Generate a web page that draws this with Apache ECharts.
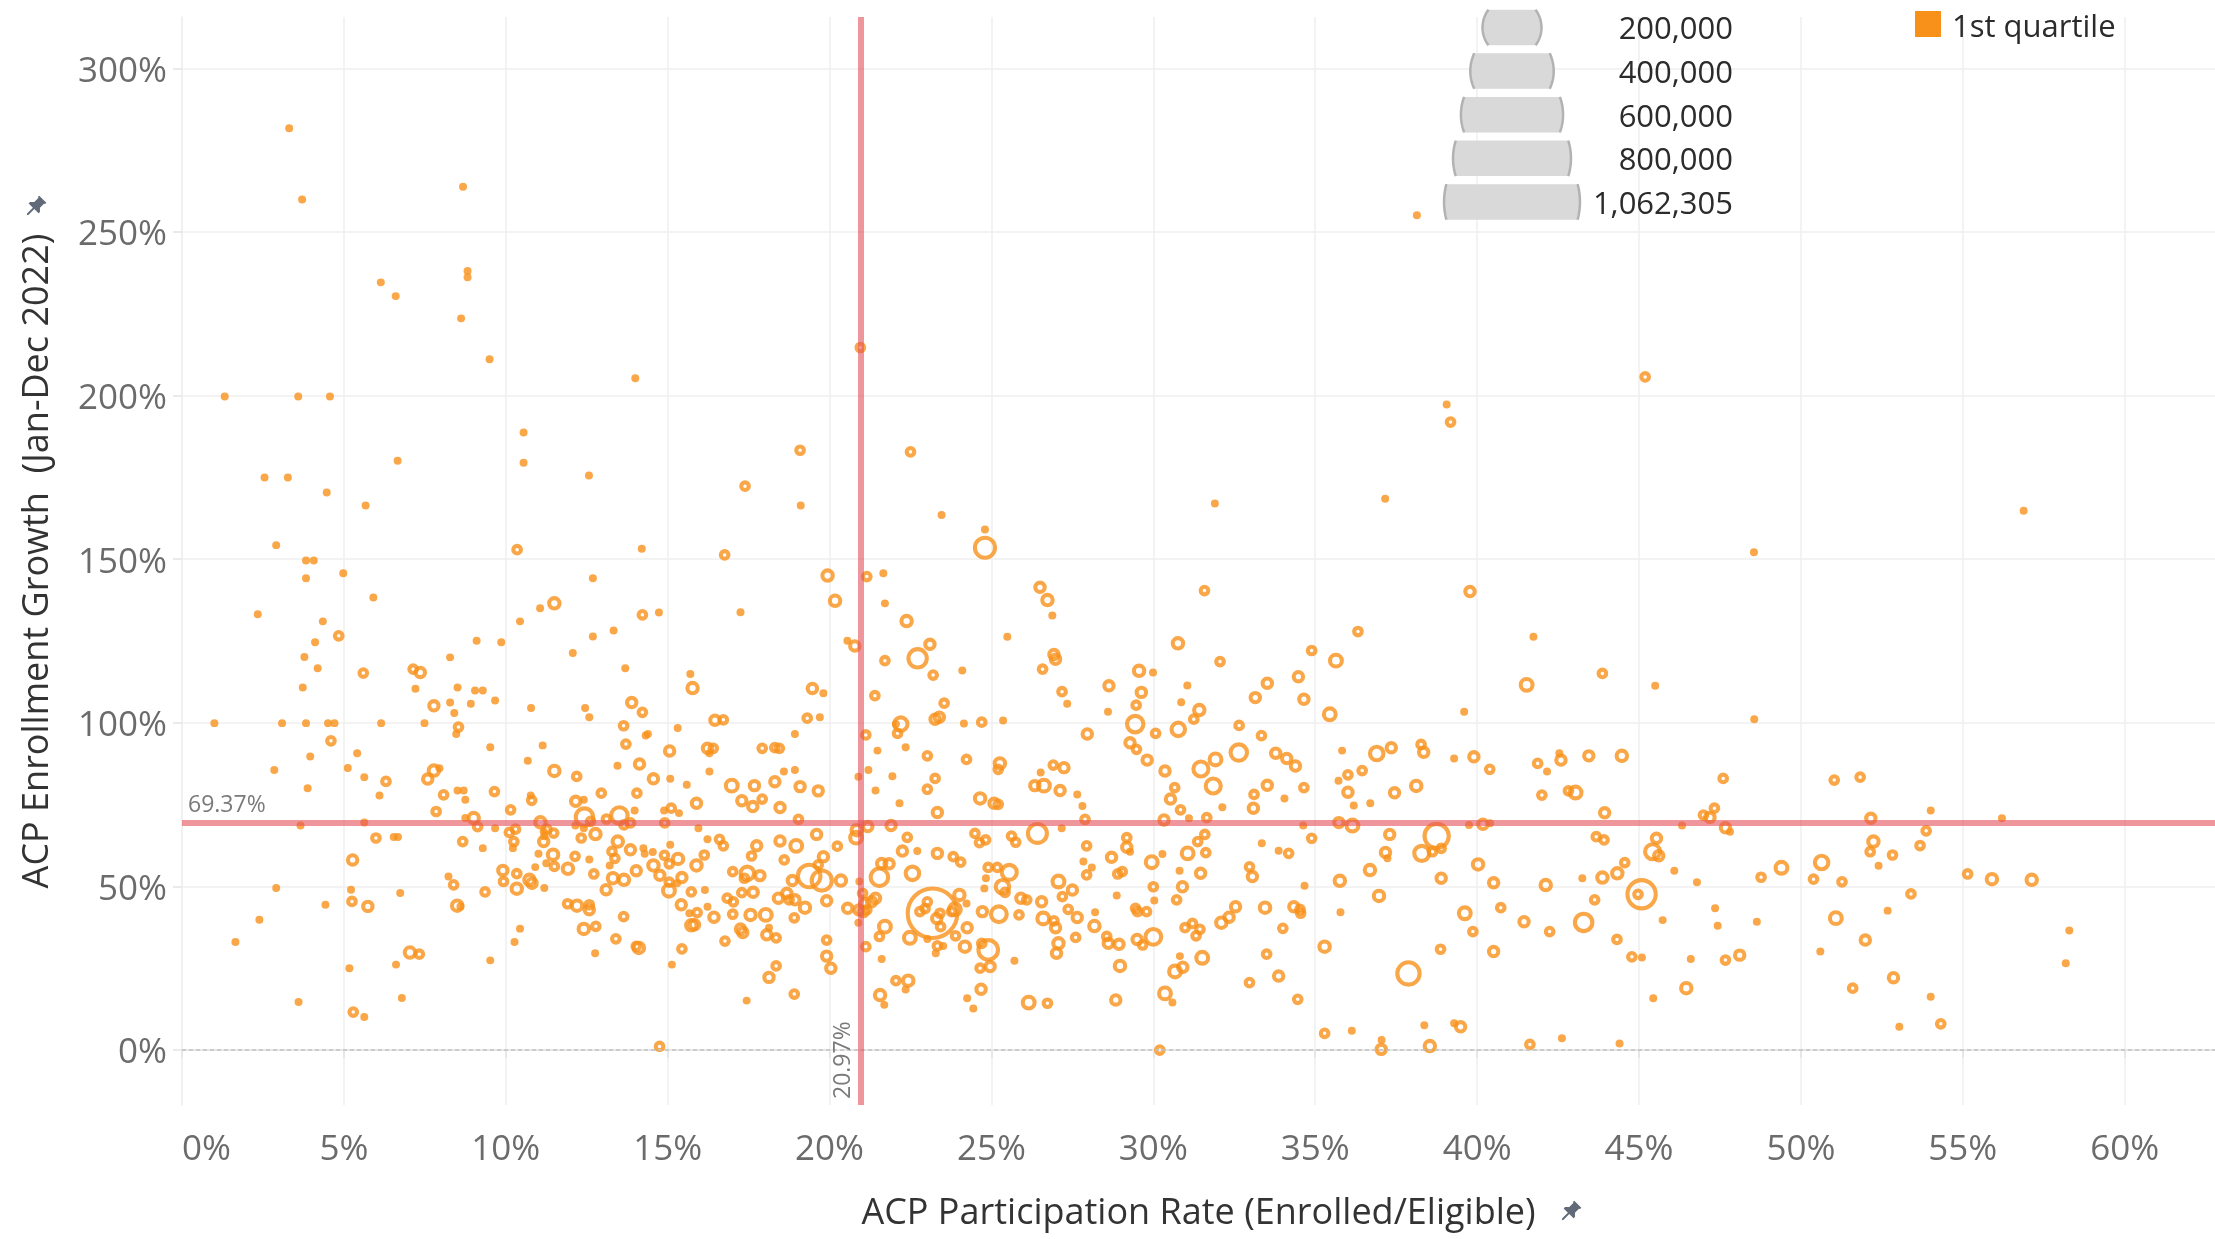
<!DOCTYPE html>
<html><head><meta charset="utf-8">
<script src="https://cdn.jsdelivr.net/npm/echarts@6/dist/echarts.min.js"></script>
<style>html,body{margin:0;padding:0;background:#fff;}#c{width:2215px;height:1239px;}</style>
</head><body><div id="c"></div>
<script>
// ---- DATA ----
// each point: [ACP participation rate %, ACP enrollment growth %, eligible households (thousands, read from mark size)]
const acpPoints = [
[3.83,149.6,19],[4.07,149.6,19],[3.83,144.2,19],[4.98,145.7,19],[2.34,133.2,19],[5.91,138.3,19],[4.35,131.0,19],[4.84,126.6,40],
[4.11,124.6,19],[3.78,120.1,19],[4.19,116.7,19],[3.73,110.8,19],[1.0,99.9,19],[3.09,99.9,19],[3.83,99.9,19],[4.51,99.9,19],
[4.71,99.9,19],[6.15,99.9,19],[7.49,99.9,19],[4.60,94.5,40],[3.96,89.7,19],[2.85,85.6,19],[5.41,90.7,19],[5.12,86.2,19],
[5.63,83.4,19],[6.30,82.1,40],[3.88,80.0,19],[6.10,77.8,19],[5.60,115.2,40],[7.14,116.4,40],[7.36,115.4,55],[8.28,120.0,19],
[7.21,110.4,19],[8.51,110.8,19],[7.78,105.2,55],[8.28,106.2,19],[8.41,103.0,19],[8.92,105.8,19],[9.05,109.9,19],[9.29,109.9,19],
[9.10,125.1,19],[9.86,124.6,19],[9.67,106.8,19],[8.54,98.7,40],[8.47,96.6,19],[10.44,131.0,19],[11.06,135.0,19],[11.50,136.5,65],
[12.69,144.2,19],[12.69,126.4,19],[12.07,121.3,19],[13.33,128.2,19],[14.22,133.0,40],[14.73,133.7,19],[13.69,116.7,19],[15.70,114.9,19],
[15.77,110.6,65],[10.78,104.5,19],[13.89,106.2,55],[14.22,103.2,40],[12.45,104.5,19],[12.58,101.7,19],[13.64,99.1,40],[15.31,98.4,19],
[14.32,96.1,19],[14.39,96.6,19],[13.71,93.5,40],[15.06,91.4,55],[9.52,92.5,19],[11.14,93.1,19],[10.68,88.4,19],[11.50,85.3,65],
[12.19,83.6,40],[13.45,86.9,19],[14.13,87.4,55],[14.56,82.9,55],[15.08,82.9,19],[15.59,81.1,19],[7.59,82.8,55],[7.78,85.4,65],
[7.95,86.1,19],[8.08,78.0,40],[8.51,79.3,19],[8.70,79.3,19],[8.75,76.5,19],[7.85,72.9,40],[9.65,79.0,40],[10.15,73.4,40],
[10.77,77.8,19],[10.80,76.3,40],[12.16,76.0,55],[12.41,76.5,19],[12.95,78.5,40],[14.05,78.5,40],[13.98,73.2,19],[14.89,73.2,19],
[15.11,73.9,40],[15.35,72.4,19],[15.89,75.4,55],[5.63,69.5,19],[3.66,68.6,19],[9.01,70.9,65],[8.75,70.9,19],[9.13,68.3,40],
[9.67,67.8,19],[11.07,69.6,65],[12.43,71.2,155],[13.51,71.7,140],[13.11,70.6,40],[12.62,69.9,40],[12.15,68.6,19],[12.41,67.8,19],
[13.65,68.8,40],[13.85,69.4,40],[14.91,69.4,40],[15.95,67.8,19],[5.99,64.8,40],[6.54,65.1,19],[6.67,65.1,19],[8.67,63.7,40],
[9.29,61.7,19],[10.11,66.5,40],[10.30,67.5,40],[10.25,63.7,40],[10.22,61.7,19],[11.17,66.8,19],[11.19,65.3,19],[11.27,67.5,40],
[11.48,66.3,40],[11.17,63.7,55],[12.33,64.8,40],[12.77,66.0,65],[13.46,63.7,65],[13.85,61.2,55],[13.28,60.7,40],[13.37,58.6,40],
[14.25,61.7,19],[14.29,60.0,19],[14.54,60.5,19],[15.08,62.7,19],[14.90,59.5,40],[15.32,58.4,65],[15.05,56.9,40],[14.56,56.4,65],
[14.76,53.4,55],[15.89,56.4,65],[11.01,60.0,19],[11.46,59.7,65],[11.25,57.1,19],[11.50,56.1,40],[10.91,55.9,19],[11.92,55.4,65],
[12.14,59.2,40],[12.58,58.2,19],[13.21,56.4,19],[12.72,53.8,40],[13.31,52.5,65],[13.65,52.0,65],[14.03,54.8,55],[15.44,52.7,55],
[15.05,51.3,40],[15.29,51.0,19],[9.91,54.9,55],[10.34,53.9,40],[9.93,51.5,40],[10.73,52.0,65],[10.81,51.0,55],[10.34,49.3,65],
[11.19,49.5,19],[13.10,49.0,55],[15.04,48.7,80],[15.73,48.3,40],[8.23,53.0,19],[8.39,50.5,40],[9.36,48.3,40],[5.27,58.1,55],
[2.91,49.5,19],[5.22,49.0,19],[5.25,45.4,40],[5.74,43.9,55],[6.74,48.0,19],[4.43,44.4,19],[8.50,44.1,65],[8.60,43.9,19],
[11.91,44.7,40],[12.20,44.1,65],[12.58,44.4,40],[12.58,42.9,55],[13.64,40.8,40],[15.42,44.4,55],[15.67,41.8,19],[15.91,42.0,40],
[15.73,38.1,65],[15.83,38.3,55],[2.39,39.8,19],[1.65,33.0,19],[10.44,37.1,19],[10.27,33.0,19],[12.41,37.0,65],[12.78,37.8,40],
[13.40,34.0,40],[14.03,31.7,40],[14.11,31.2,65],[15.44,30.9,40],[12.76,29.6,19],[15.13,26.1,19],[7.04,29.8,65],[7.33,29.3,40],
[5.17,25.0,19],[6.61,26.1,19],[9.52,27.4,19],[3.60,14.7,19],[6.79,15.9,19],[5.29,11.6,40],[5.63,10.1,19],[14.75,1.1,40],
[19.94,145.0,65],[21.15,144.7,40],[21.66,145.7,19],[21.71,136.5,19],[20.17,137.3,65],[17.25,133.8,19],[22.38,131.1,65],[26.50,141.4,55],
[26.73,137.5,65],[26.88,132.8,19],[31.58,140.4,40],[25.49,126.3,19],[20.55,125.1,19],[20.78,123.5,55],[22.72,119.7,170],[23.10,124.0,55],
[21.71,119.0,40],[23.20,114.6,40],[24.10,116.0,19],[26.93,120.9,55],[26.98,119.4,55],[26.58,116.4,40],[27.18,109.5,40],[27.34,105.8,19],
[30.76,124.3,65],[29.56,115.9,65],[29.99,115.4,19],[28.63,111.3,55],[29.63,109.3,55],[31.05,111.4,19],[29.47,105.4,40],[28.60,103.4,19],
[30.86,106.3,19],[31.42,103.9,65],[31.25,101.1,40],[29.44,99.6,140],[30.77,98.0,100],[30.07,96.8,40],[27.96,96.6,55],[29.28,93.9,55],
[29.48,91.9,40],[29.81,88.6,55],[31.47,85.9,120],[19.47,110.5,55],[19.81,109.0,19],[19.31,101.4,40],[19.70,101.7,19],[16.46,100.8,55],
[16.72,100.9,40],[18.93,96.6,19],[16.23,92.2,55],[16.41,92.2,40],[16.29,90.7,19],[17.92,92.2,40],[18.31,92.4,40],[18.45,92.2,40],
[16.29,85.1,19],[18.59,85.1,19],[18.93,85.6,19],[16.98,80.8,80],[17.68,80.8,55],[18.31,82.0,55],[19.09,80.5,55],[19.65,79.2,55],
[17.29,76.2,55],[17.63,74.4,55],[17.92,76.7,40],[18.47,74.1,55],[19.04,70.5,40],[16.23,64.4,19],[16.60,64.4,40],[16.72,62.4,40],
[16.13,59.6,40],[17.75,62.4,55],[17.59,59.3,40],[18.47,63.9,55],[18.97,62.4,80],[19.60,65.9,55],[18.60,58.1,40],[17.01,54.5,40],
[17.46,54.0,100],[17.37,52.5,40],[17.85,53.3,55],[17.64,48.2,55],[17.29,48.1,40],[16.15,48.9,19],[19.81,59.1,55],[19.65,56.6,40],
[19.37,53.2,245],[19.76,51.8,200],[18.85,51.8,55],[20.35,51.8,65],[20.24,62.3,40],[20.82,64.9,80],[20.84,67.2,65],[21.18,68.3,55],
[21.90,68.6,55],[20.89,83.5,19],[21.20,85.6,19],[21.12,96.3,40],[21.48,91.5,19],[21.94,83.7,19],[21.42,79.3,19],[22.16,75.4,19],
[21.40,108.3,40],[22.20,99.6,100],[22.05,99.6,19],[22.10,96.8,40],[22.35,92.5,19],[23.02,89.9,40],[23.26,101.1,55],[23.39,101.7,55],
[23.54,106.0,40],[23.26,83.0,40],[23.02,79.7,40],[23.33,72.6,55],[24.15,99.8,19],[24.70,100.2,40],[25.36,100.7,19],[24.23,88.8,40],
[25.26,87.6,65],[25.21,85.8,40],[24.65,76.9,65],[25.08,75.4,55],[25.21,75.1,40],[22.40,65.0,40],[22.25,60.8,55],[22.71,60.8,19],
[22.56,54.0,100],[21.54,52.8,155],[21.61,57.0,55],[21.84,56.9,55],[20.92,51.5,19],[21.02,47.9,40],[21.09,44.8,55],[21.30,45.3,55],
[21.42,46.4,55],[20.91,42.8,55],[21.04,42.3,55],[21.15,42.8,40],[20.89,38.9,19],[20.56,43.3,55],[19.91,45.6,55],[19.24,43.5,65],
[18.42,46.4,55],[18.68,47.9,55],[18.75,45.9,40],[18.93,45.9,55],[18.91,40.4,40],[18.03,41.3,80],[17.56,41.3,65],[17.01,41.5,40],
[16.43,40.6,55],[16.84,46.4,40],[17.03,45.3,40],[16.23,43.8,19],[17.25,37.0,55],[17.32,35.9,55],[16.77,33.3,40],[18.06,35.2,55],
[18.13,37.4,19],[18.35,34.3,40],[19.91,33.6,40],[19.91,28.7,55],[20.04,25.0,55],[18.35,25.7,40],[18.13,22.2,55],[17.44,15.1,19],
[18.91,17.1,40],[21.12,31.6,40],[21.71,37.7,80],[21.54,34.7,40],[21.61,27.8,19],[21.56,16.8,65],[21.69,13.8,19],[22.05,21.2,40],
[22.43,21.2,65],[22.35,18.5,19],[23.18,41.8,1060],[23.02,45.3,40],[22.79,42.3,40],[22.95,43.2,40],[23.31,40.2,55],[23.41,41.8,40],
[23.43,37.7,40],[22.48,34.3,80],[23.02,33.9,19],[23.33,31.8,40],[23.51,31.8,19],[23.28,29.6,19],[24.01,47.4,65],[24.23,44.8,19],
[23.87,43.0,80],[23.77,42.3,40],[24.25,37.4,55],[23.89,34.9,40],[24.18,31.6,65],[24.72,42.3,55],[25.23,41.5,130],[24.90,30.6,190],
[24.70,32.6,40],[24.65,25.0,40],[24.96,25.5,55],[24.68,18.6,55],[24.25,15.8,19],[24.44,12.7,19],[24.90,55.8,40],[25.18,55.8,40],
[25.55,54.3,120],[25.34,49.9,100],[25.42,48.2,40],[24.83,52.5,19],[24.78,49.4,19],[24.49,66.2,40],[24.63,63.4,40],[24.82,64.2,40],
[23.33,60.1,55],[23.82,59.1,40],[24.05,57.4,40],[25.62,65.4,40],[25.75,63.5,40],[26.42,66.2,180],[27.17,67.8,19],[27.65,78.1,19],
[27.81,74.6,19],[27.89,70.5,40],[26.34,80.8,55],[26.62,80.8,80],[26.52,84.8,19],[26.91,87.1,40],[27.24,86.3,55],[27.12,79.3,55],
[27.94,62.4,40],[27.84,57.6,19],[28.10,55.8,19],[27.94,53.5,40],[27.07,51.5,80],[27.50,48.9,55],[27.19,46.9,40],[26.55,45.3,55],
[25.91,46.4,55],[26.09,45.9,40],[25.85,41.3,40],[26.60,40.2,80],[26.93,39.5,40],[26.98,37.4,55],[27.37,43.0,40],[27.65,40.5,55],
[27.60,34.4,40],[27.07,32.6,65],[27.01,29.6,55],[28.18,37.9,65],[28.20,42.1,19],[25.71,27.3,19],[26.15,14.5,80],[26.73,14.3,40],
[28.56,34.7,40],[28.61,32.6,55],[28.94,32.3,55],[28.97,25.7,65],[28.84,15.3,55],[28.71,58.9,55],[28.90,53.8,40],[29.04,54.5,40],
[28.87,47.2,19],[29.18,64.9,40],[29.18,62.0,55],[29.28,60.6,19],[29.45,43.3,40],[29.51,42.3,40],[29.79,42.3,40],[29.50,33.8,55],
[29.67,32.1,40],[30.00,34.6,130],[30.00,49.9,40],[30.03,45.7,19],[29.95,57.4,80],[30.28,59.9,19],[30.33,70.3,55],[30.84,73.4,40],
[31.10,70.8,19],[30.53,76.7,55],[30.66,80.2,40],[30.36,85.3,55],[31.06,60.1,80],[31.37,63.7,40],[31.59,65.9,40],[31.62,60.3,40],
[31.46,54.0,55],[30.90,49.9,55],[30.81,54.8,19],[30.72,45.9,40],[30.98,37.4,40],[31.21,38.7,40],[31.44,36.9,40],[31.32,34.9,40],
[31.51,28.2,80],[30.67,24.0,80],[30.91,25.3,55],[30.82,28.7,19],[30.36,17.3,80],[30.59,14.5,19],[30.20,0.0,40],
[39.78,140.1,55],[36.32,127.9,40],[41.74,126.3,19],[32.06,118.7,40],[34.89,122.1,40],[35.64,119.0,80],[34.48,114.1,55],[33.52,112.1,55],
[33.15,107.7,55],[34.65,107.2,55],[35.45,102.6,80],[41.53,111.6,80],[43.87,115.1,40],[45.50,111.3,19],[39.60,103.4,19],[32.65,99.2,40],
[33.34,96.1,40],[32.64,90.9,140],[31.92,88.8,80],[31.85,80.7,120],[33.78,90.7,55],[34.12,89.1,55],[34.39,86.8,55],[33.52,80.9,55],
[33.11,78.1,40],[33.09,73.9,55],[34.05,76.9,19],[34.65,80.2,40],[32.13,74.2,19],[31.65,71.0,40],[35.83,91.5,19],[36.01,84.1,40],
[36.45,85.4,40],[35.72,82.3,19],[36.01,78.8,55],[36.19,74.7,19],[36.70,75.4,19],[36.90,90.6,100],[37.35,92.4,55],[37.45,78.6,55],
[38.12,80.7,65],[38.27,93.4,40],[38.35,91.0,55],[39.29,89.1,19],[39.90,89.6,55],[40.39,85.8,40],[41.87,87.6,40],[42.16,85.1,19],
[42.54,90.7,19],[42.59,88.6,55],[43.45,89.9,55],[44.47,89.9,65],[42.00,77.9,40],[42.82,79.2,40],[43.04,78.7,80],[43.94,72.5,55],
[46.33,68.6,19],[46.99,71.8,40],[47.19,71.1,55],[47.33,73.9,40],[34.63,68.6,19],[35.73,69.5,55],[36.15,68.6,80],[34.89,64.7,40],
[33.35,63.2,19],[33.87,60.9,19],[34.18,60.1,40],[37.30,65.9,55],[37.17,60.4,55],[37.23,58.6,19],[38.75,65.4,280],[38.29,60.1,120],
[38.89,61.6,40],[38.62,60.6,40],[39.75,68.8,19],[40.18,69.0,55],[40.40,69.3,19],[40.03,56.7,65],[40.51,51.1,55],[38.89,52.5,55],
[36.69,55.0,65],[35.76,51.7,65],[36.97,47.1,65],[32.97,56.0,40],[33.06,53.0,55],[34.67,50.2,19],[32.54,43.8,55],[32.34,40.6,55],
[32.10,38.9,65],[33.45,43.5,65],[34.34,43.8,55],[34.53,43.0,40],[34.55,41.8,40],[34.00,37.2,40],[35.78,42.1,19],[33.50,29.3,40],
[32.97,20.6,40],[33.87,22.6,55],[34.46,15.5,40],[35.29,31.6,65],[35.29,5.1,40],[36.13,5.9,19],[37.05,3.1,19],[37.04,0.2,55],
[37.88,23.4,240],[38.37,7.6,19],[38.54,1.2,65],[38.87,30.8,40],[39.29,8.2,19],[39.49,7.1,55],[39.62,41.8,80],[39.87,36.2,40],
[40.51,30.1,55],[40.73,43.5,40],[41.45,39.2,55],[42.12,50.4,65],[42.24,36.2,40],[43.29,39.0,155],[43.25,52.5,19],[43.87,52.7,65],
[43.63,45.9,40],[43.68,65.2,40],[43.92,64.2,40],[44.33,54.0,65],[44.56,57.3,40],[45.08,47.6,370],[44.97,47.6,40],[45.42,60.6,120],
[45.54,64.7,55],[45.61,59.4,55],[46.09,54.8,19],[46.79,51.3,19],[44.32,33.8,40],[44.78,28.5,40],[45.09,28.3,19],[45.73,39.7,19],
[46.60,27.8,19],[46.46,18.9,65],[45.44,15.8,19],[47.35,43.3,19],[47.43,38.0,19],[41.63,1.7,40],[42.62,3.6,19],[44.40,2.0,19],
[48.56,101.1,19],[47.60,83.0,40],[47.67,67.9,55],[47.81,66.7,19],[48.64,39.2,19],[47.67,27.5,40],[48.11,29.0,55],[48.77,52.8,40],
[49.40,55.7,80],[50.39,52.2,40],[50.64,57.3,100],[51.27,51.4,40],[51.03,82.5,40],[51.83,83.4,40],[52.16,70.8,55],[52.24,63.7,65],
[52.14,60.6,40],[52.83,59.6,40],[52.40,56.3,19],[53.68,62.5,40],[53.87,67.0,40],[54.01,73.2,19],[56.21,70.8,19],[55.15,53.8,40],
[55.90,52.2,65],[57.13,52.0,65],[53.40,47.7,40],[52.68,42.6,19],[51.08,40.3,80],[51.99,33.6,55],[50.60,30.1,19],[52.86,22.1,55],
[51.60,18.9,40],[54.01,16.3,19],[53.04,7.1,19],[54.32,8.0,40],[58.29,36.5,19],[58.18,26.5,19],
[3.31,281.7,19],[3.71,259.9,19],[8.68,263.8,19],[8.82,238.1,19],[8.82,236.2,19],[6.14,234.6,19],[6.60,230.4,19],[8.62,223.6,19],
[9.50,211.1,19],[20.95,214.7,40],[14.00,205.3,19],[1.32,199.7,19],[3.59,199.7,19],[4.57,199.7,19],[10.55,188.7,19],[19.09,183.3,40],
[22.50,182.8,40],[6.66,180.1,19],[10.55,179.5,19],[2.55,175.0,19],[3.27,175.0,19],[12.57,175.6,19],[4.47,170.4,19],[17.39,172.3,40],
[19.11,166.4,19],[5.67,166.4,19],[23.46,163.5,19],[24.80,159.1,19],[24.80,153.5,200],[2.91,154.3,19],[10.35,152.9,40],[14.20,153.2,19],
[16.76,151.3,40],
[38.14,255.1,19],[45.19,205.7,40],[39.06,197.3,19],[39.18,191.9,40],[31.90,167.0,19],[37.16,168.5,19],[56.88,164.8,19],[48.55,152.1,19]
];
const xTicks = [0, 5, 10, 15, 20, 25, 30, 35, 40, 45, 50, 55, 60];
const yTicks = [0, 50, 100, 150, 200, 250, 300];
const avgParticipation = 20.97;   // reference line (x)
const avgGrowth = 69.37;          // reference line (y)
const sizeLegendValues = [200000, 400000, 600000, 800000, 1062305];
const colorLegendLabels = ['1st quartile'];
const xTitle = 'ACP Participation Rate (Enrolled/Eligible)';
const yTitle = 'ACP Enrollment Growth  (Jan-Dec 2022)';

// ---- STYLE ----
const ORANGE = '#F7911A';
const FONT = 'Open Sans';
const DOT_K = 25;
const RING_W = 4.1;
function markDiameter(k) { return 1.6 * Math.sqrt(k); }

const chart = echarts.init(document.getElementById('c'), null, { renderer: 'canvas', width: 2215, height: 1239 });

const seriesData = acpPoints.map(p => ({
  value: p,
  itemStyle: p[2] < DOT_K
    ? { color: ORANGE, borderWidth: 0 }
    : { color: 'rgba(0,0,0,0)', borderColor: ORANGE, borderWidth: RING_W }
}));

// size legend shapes (cropped circles)
const graphics = [];
const legCx = 1512, legTop = 27.5, legStep = 43.6, halfBand = 17.75;
sizeLegendValues.forEach((v, i) => {
  const R = 2.085 * Math.sqrt(v / 1000);
  const cy = legTop + i * legStep;
  const left = [], right = [];
  for (let s = 0; s <= 24; s++) {
    const t = -halfBand + (2 * halfBand) * s / 24;
    const dx = Math.sqrt(Math.max(R * R - t * t, 0));
    left.push([legCx - dx, cy + t]);
    right.push([legCx + dx, cy + t]);
  }
  graphics.push({ type: 'polygon', z: 100, shape: { points: left.concat(right.slice().reverse()) }, style: { fill: '#d9d9d9', stroke: null } });
  graphics.push({ type: 'polyline', z: 101, shape: { points: left }, style: { stroke: '#b2b2b2', lineWidth: 2.5, fill: null } });
  graphics.push({ type: 'polyline', z: 101, shape: { points: right }, style: { stroke: '#b2b2b2', lineWidth: 2.5, fill: null } });
  graphics.push({ type: 'text', z: 102, x: 1733, y: cy + 3, style: { text: v.toLocaleString('en-US'), font: '31px "Open Sans"', fill: '#2b2b2b', textAlign: 'right', textVerticalAlign: 'middle', align: 'right', verticalAlign: 'middle' } });
});
// colour legend
colorLegendLabels.forEach((lab, i) => {
  graphics.push({ type: 'rect', z: 100, shape: { x: 1915, y: 11 + i * 40, width: 26, height: 26 }, style: { fill: ORANGE } });
  graphics.push({ type: 'text', z: 100, x: 1952, y: 28 + i * 40, style: { text: lab, font: '31px "Open Sans"', fill: '#2b2b2b', textAlign: 'left', textVerticalAlign: 'middle', align: 'left', verticalAlign: 'middle' } });
});
// pin icons next to axis titles (upright outline, rotated 45deg clockwise)
const pinOutline = [[-5,-11],[5,-11],[5,-9],[4,-9],[4,-3],[7,0],[7,2],[1,2],[1,10],[0,11.5],[-1,10],[-1,2],[-7,2],[-7,0],[-4,-3],[-4,-9],[-5,-9]];
function pinAt(cx, cy) {
  const a = Math.PI / 4, c = Math.cos(a), s = Math.sin(a);
  const pts = pinOutline.map(([x, y]) => [cx + x * c - y * s, cy + x * s + y * c]);
  return { type: 'polygon', z: 100, shape: { points: pts }, style: { fill: '#606a78' } };
}
graphics.push(pinAt(35, 207));
graphics.push(pinAt(1570, 1212));

const refLineStyle = { color: 'rgba(228,80,90,0.6)', width: 6, type: 'solid' };
const refLabel = { show: true, position: 'insideStartTop', formatter: p => Number(p.value).toFixed(2) + '%', fontFamily: FONT, fontSize: 23, color: '#7a7a7a', distance: 6 };

chart.setOption({
  animation: false,
  backgroundColor: '#fff',
  grid: { left: 182, right: 0, top: 17, bottom: 134, containLabel: false },
  xAxis: {
    type: 'value', min: 0, max: 62.79,
    axisLine: { show: true, lineStyle: { color: '#e4e4e4', width: 1.5 } },
    axisTick: { show: true, customValues: xTicks, length: 8, lineStyle: { color: '#e4e4e4', width: 1.5 } },
    axisLabel: { customValues: xTicks, formatter: v => v + '%', fontFamily: FONT, fontSize: 35, color: '#6b6b6b', margin: 28, alignMinLabel: 'left' },
    splitLine: { show: true, lineStyle: { color: '#efefef', width: 1.5 } },
    name: xTitle, nameLocation: 'middle', nameGap: 91,
    nameTextStyle: { fontFamily: FONT, fontSize: 36, color: '#333' }
  },
  yAxis: {
    type: 'value', min: -16.8, max: 315.7,
    axisLine: { show: true, lineStyle: { color: '#efefef', width: 1.5 } },
    axisTick: { show: true, customValues: yTicks, length: 9, lineStyle: { color: '#e4e4e4', width: 1.5 } },
    axisLabel: {
      customValues: yTicks, formatter: v => '{t|' + v + '%}', margin: 15,
      rich: { t: { fontFamily: FONT, fontSize: 35, color: '#6b6b6b', padding: [7, 0, 0, 0] } }
    },
    splitLine: { show: true, lineStyle: { color: '#efefef', width: 1.5 } },
    name: yTitle, nameLocation: 'middle', nameGap: 126,
    nameTextStyle: { fontFamily: FONT, fontSize: 36, color: '#333' }
  },
  graphic: { elements: graphics },
  series: [
    {
      type: 'scatter', z: 2, silent: true,
      symbol: 'circle',
      symbolSize: v => { const d = markDiameter(v[2]); return v[2] < DOT_K ? d + 1 : d - 2.5; },
      data: seriesData,
      emphasis: { disabled: true }
    },
    {
      type: 'scatter', data: [], silent: true,
      markLine: {
        silent: true, symbol: ['none', 'none'], animation: false,
        data: [
          { yAxis: 0, lineStyle: { color: '#c2c2c2', width: 1.5, type: [4, 3] }, label: { show: false } },
          { xAxis: avgParticipation, lineStyle: refLineStyle, label: refLabel },
          { yAxis: avgGrowth, lineStyle: refLineStyle, label: refLabel }
        ]
      }
    }
  ]
});
</script>
</body></html>
